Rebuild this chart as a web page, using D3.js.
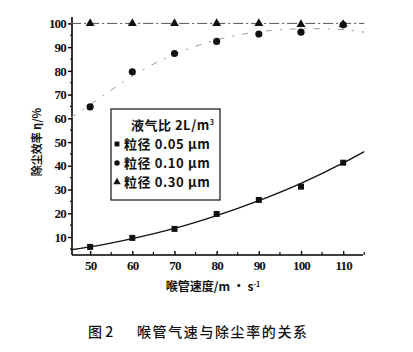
<!DOCTYPE html>
<html>
<head>
<meta charset="utf-8">
<script src="https://cdn.jsdelivr.net/npm/d3@7"></script>
<style>
  body { margin: 0; background: #fff; }
  svg { display: block; }
</style>
</head>
<body>
<div id="chart"></div>
<script>
// data
var speeds = [50, 60, 70, 80, 90, 100, 110];
var eff005 = [5.8, 9.6, 13.4, 19.7, 25.6, 31.2, 41.3];
var eff010 = [64.8, 79.6, 87.3, 92.4, 95.5, 96.3, 99.4];
var eff030 = [100, 100, 100, 100, 100, 99.6, 99.6];

// fitted curves as they appear in the picture
var fit005x = [45.5, 50, 60, 70, 80, 90, 100, 110, 115];
var fit005y = [4.6, 5.8, 9.3, 13.6, 19.0, 25.3, 32.6, 41.2, 46.0];
var fit010x = [45.5, 50, 60, 70, 80, 90, 100, 110, 115];
var fit010y = [60.3, 65.5, 78.5, 87.5, 93.5, 96.8, 98.0, 97.6, 96.3];
var fit030x = [45.5, 115];
var fit030y = [100, 100];

var xTicks = [50, 60, 70, 80, 90, 100, 110];
var yTicks = [10, 20, 30, 40, 50, 60, 70, 80, 90, 100];

var width = 413, height = 352;
var svg = d3.select("#chart").append("svg")
  .attr("width", width)
  .attr("height", height);

var x = d3.scaleLinear().domain([45.7, 114.7]).range([72, 363]);
var y = d3.scaleLinear().domain([2.4, 102.7]).range([255, 17]);

var tickFont = "'Liberation Serif', 'DejaVu Serif', serif";
var cjkFont = "'Noto Sans CJK SC', sans-serif";

// y axis
var yaxis = d3.axisLeft(y).tickValues(yTicks).tickSize(4).tickPadding(2);
var gy = svg.append("g").attr("transform", "translate(72,0)").call(yaxis);
gy.select(".domain").attr("d", "M0," + y.range()[1] + "V" + y.range()[0]).attr("stroke-width", 1.6);
gy.selectAll(".tick line").attr("stroke-width", 1.4);
gy.selectAll("text")
  .style("font-family", tickFont)
  .style("font-weight", "700")
  .style("font-size", "13px")
  .style("letter-spacing", "-0.8px")
  .attr("fill", "#111");
// minor y ticks
svg.append("g").selectAll("line")
  .data(d3.range(5, 101, 10))
  .enter().append("line")
  .attr("x1", 70).attr("x2", 72)
  .attr("y1", d => y(d)).attr("y2", d => y(d))
  .attr("stroke", "#111").attr("stroke-width", 1.2);

// x axis
var xaxis = d3.axisBottom(x).tickValues(xTicks).tickSize(-4).tickPadding(6);
var gx = svg.append("g").attr("transform", "translate(0,255)").call(xaxis);
gx.select(".domain").attr("d", "M72,0H" + x.range()[1]).attr("stroke-width", 1.6);
gx.selectAll(".tick line").attr("stroke-width", 1.4);
gx.selectAll("text")
  .style("font-family", tickFont)
  .style("font-weight", "700")
  .style("font-size", "13px")
  .style("letter-spacing", "-0.8px")
  .attr("fill", "#111");
svg.append("g").selectAll("line")
  .data(d3.range(55, 116, 10))
  .enter().append("line")
  .attr("x1", d => x(d)).attr("x2", d => x(d))
  .attr("y1", 255).attr("y2", 252)
  .attr("stroke", "#111").attr("stroke-width", 1.2);

// fitted lines
var line = d3.line().x(d => x(d[0])).y(d => y(d[1])).curve(d3.curveMonotoneX);

svg.append("path")
  .datum(d3.zip(fit030x, fit030y))
  .attr("d", line)
  .attr("fill", "none")
  .attr("stroke", "#555")
  .attr("stroke-width", 1)
  .attr("stroke-dasharray", "10,3,2,3");

svg.append("path")
  .datum(d3.zip(fit010x, fit010y))
  .attr("d", d3.line().x(d => x(d[0])).y(d => y(d[1])).curve(d3.curveBasis))
  .attr("fill", "none")
  .attr("stroke", "#999")
  .attr("stroke-width", 1)
  .attr("stroke-dasharray", "6,8,2,8");

svg.append("path")
  .datum(d3.zip(fit005x, fit005y))
  .attr("d", line)
  .attr("fill", "none")
  .attr("stroke", "#111")
  .attr("stroke-width", 1.4);

// points
var sq = d3.symbol().type(d3.symbolSquare).size(36);
var ci = d3.symbol().type(d3.symbolCircle).size(40);
var tr = d3.symbol().type(d3.symbolTriangle).size(34);

svg.append("g").selectAll("path")
  .data(d3.zip(speeds, eff030))
  .enter().append("path")
  .attr("d", tr)
  .attr("transform", d => "translate(" + x(d[0]) + "," + y(d[1]) + ")")
  .attr("fill", "#111");

svg.append("g").selectAll("path")
  .data(d3.zip(speeds, eff010))
  .enter().append("path")
  .attr("d", ci)
  .attr("transform", d => "translate(" + x(d[0]) + "," + y(d[1]) + ")")
  .attr("fill", "#111");

svg.append("g").selectAll("path")
  .data(d3.zip(speeds, eff005))
  .enter().append("path")
  .attr("d", sq)
  .attr("transform", d => "translate(" + x(d[0]) + "," + y(d[1]) + ")")
  .attr("fill", "#111");

// legend
var lg = svg.append("g").attr("transform", "translate(111,109)");
lg.append("rect")
  .attr("width", 109).attr("height", 91)
  .attr("fill", "#fff")
  .attr("stroke", "#111")
  .attr("stroke-width", 1.2);
var title = lg.append("text")
  .attr("x", 20).attr("y", 21)
  .style("font-family", cjkFont)
  .style("font-weight", "700")
  .style("font-size", "13px")
  .style("letter-spacing", "0.5px")
  .attr("fill", "#111");
title.append("tspan").text("液气比 2L/m");
title.append("tspan").attr("dy", -5).style("font-size", "7px").text("3");

var legendItems = [
  { sym: sq, label: "粒径 0.05 μm" },
  { sym: ci, label: "粒径 0.10 μm" },
  { sym: tr, label: "粒径 0.30 μm" }
];
legendItems.forEach(function (d, i) {
  var yy = 35 + i * 19;
  lg.append("path")
    .attr("d", d.sym.size(24)())
    .attr("transform", "translate(6," + yy + ")")
    .attr("fill", "#111");
  lg.append("text")
    .attr("x", 13).attr("y", yy + 5)
    .style("font-family", cjkFont)
    .style("font-weight", "700")
    .style("font-size", "13px")
    .style("letter-spacing", "0.6px")
    .attr("fill", "#111")
    .text(d.label);
});

// axis titles
svg.append("text")
  .attr("transform", "translate(41,142) rotate(-90)")
  .style("text-anchor", "middle")
  .style("font-family", cjkFont)
  .style("font-weight", "700")
  .style("font-size", "11px")
  .attr("fill", "#111")
  .text("除尘效率 η/%");

var xt = svg.append("text")
  .attr("x", 213).attr("y", 291)
  .style("text-anchor", "middle")
  .style("font-family", cjkFont)
  .style("font-weight", "700")
  .style("font-size", "12px")
  .attr("fill", "#111");
xt.append("tspan").text("喉管速度/m · s");
xt.append("tspan").attr("dy", -4).style("font-size", "7px").text("-1");

// caption
var cap = svg.append("g")
  .style("font-family", cjkFont)
  .style("font-size", "14px")
  .style("font-weight", "500")
  .attr("fill", "#111");
cap.append("text").attr("x", 88).attr("y", 337).text("图 2");
cap.append("text").attr("x", 137).attr("y", 337)
  .style("letter-spacing", "1.6px")
  .text("喉管气速与除尘率的关系");
</script>
</body>
</html>
